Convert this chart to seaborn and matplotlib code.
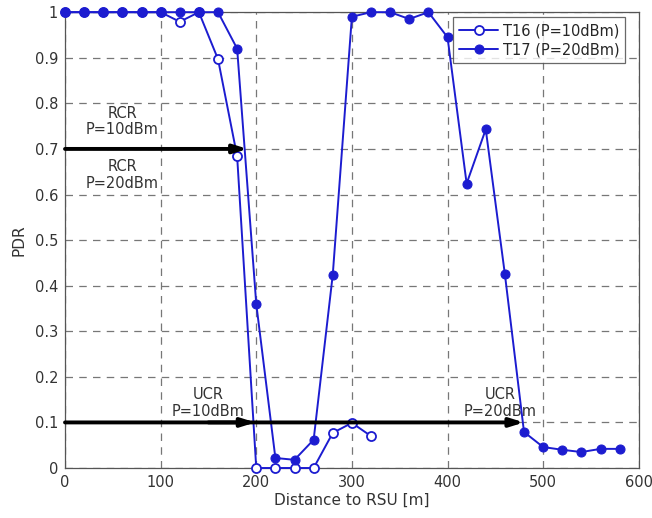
import matplotlib
matplotlib.use("Agg")
import matplotlib.pyplot as plt
import seaborn as sns
import numpy as np

sns.set_style("white")
plt.rcParams['font.family'] = ['DejaVu Sans']

t16_x = [0, 20, 40, 60, 80, 100, 120, 140, 160, 180, 200, 220, 240, 260, 280, 300, 320]
t16_y = [1.0, 1.0, 1.0, 1.0, 1.0, 1.0, 0.979, 1.0, 0.897, 0.684, 0.0, 0.0, 0.0, 0.0, 0.077, 0.099, 0.07]

t17_x = [0, 20, 40, 60, 80, 100, 120, 140, 160, 180, 200, 220, 240, 260, 280, 300,
         320, 340, 360, 380, 400, 420, 440, 460, 480, 500, 520, 540, 560, 580]
t17_y = [1.0, 1.0, 1.0, 1.0, 1.0, 1.0, 1.0, 1.0, 1.0, 0.92, 0.36, 0.022, 0.018, 0.062, 0.424, 0.99,
         1.0, 1.0, 0.985, 1.0, 0.945, 0.624, 0.743, 0.425, 0.079, 0.046, 0.04, 0.035, 0.042, 0.042]

x_ticks = [0, 100, 200, 300, 400, 500, 600]
y_ticks = [0, 0.1, 0.2, 0.3, 0.4, 0.5, 0.6, 0.7, 0.8, 0.9, 1.0]
y_tick_labels = ["0", "0.1", "0.2", "0.3", "0.4", "0.5", "0.6", "0.7", "0.8", "0.9", "1"]

blue = "#1c1cd0"

fig = plt.figure(figsize=(6.52, 5.18), dpi=100)
ax = fig.add_axes([0.0997, 0.0965, 0.880, 0.880])

sns.lineplot(x=t16_x, y=t16_y, ax=ax, color=blue, marker='o', markersize=6.5,
             markerfacecolor='white', markeredgecolor=blue, markeredgewidth=1.3,
             linewidth=1.4, label="T16 (P=10dBm)", zorder=3, clip_on=False)
sns.lineplot(x=t17_x, y=t17_y, ax=ax, color=blue, marker='o', markersize=6.5,
             markerfacecolor=blue, markeredgecolor=blue,
             linewidth=1.4, label="T17 (P=20dBm)", zorder=4, clip_on=False)

ax.set_xlim(0, 600)
ax.set_ylim(0, 1)
ax.set_xticks(x_ticks)
ax.set_yticks(y_ticks)
ax.set_yticklabels(y_tick_labels)
ax.tick_params(labelsize=10.5, colors='#333333', length=0, pad=5)
ax.grid(True, linestyle=(0, (6, 5)), color='#777777', linewidth=0.9)
for s in ax.spines.values():
    s.set_color('#555555')
    s.set_linewidth(0.9)
ax.set_xlabel("Distance to RSU [m]", fontsize=11, color='#333333', labelpad=2)
ax.set_ylabel("PDR", fontsize=11, color='#333333', labelpad=6)

# arrows
akw = dict(arrowstyle='-|>,head_length=0.8,head_width=0.25', color='black', lw=2.8,
           shrinkA=0, shrinkB=0)
ax.annotate("", xy=(191, 0.7), xytext=(0, 0.7), arrowprops=akw, zorder=5)
ax.annotate("", xy=(480, 0.1), xytext=(0, 0.1), arrowprops=akw, zorder=5)
ax.annotate("", xy=(199, 0.1), xytext=(150, 0.1), arrowprops=akw, zorder=5)

tkw = dict(ha='center', va='center', fontsize=10.5, color='#333333', linespacing=1.15)
ax.text(60, 0.76, "RCR\nP=10dBm", **tkw)
ax.text(60, 0.643, "RCR\nP=20dBm", **tkw)
ax.text(150, 0.143, "UCR\nP=10dBm", **tkw)
ax.text(455, 0.143, "UCR\nP=20dBm", **tkw)

leg = ax.legend(loc='upper right', fontsize=10.5, frameon=True, fancybox=False,
                edgecolor='#444444', borderaxespad=0.35, handlelength=2.7,
                handletextpad=0.3, borderpad=0.4, labelspacing=0.3,
                bbox_to_anchor=(0.985, 1.0))
leg.get_frame().set_linewidth(0.9)
leg.set_zorder(10)

fig.savefig("out.png", dpi=100)
